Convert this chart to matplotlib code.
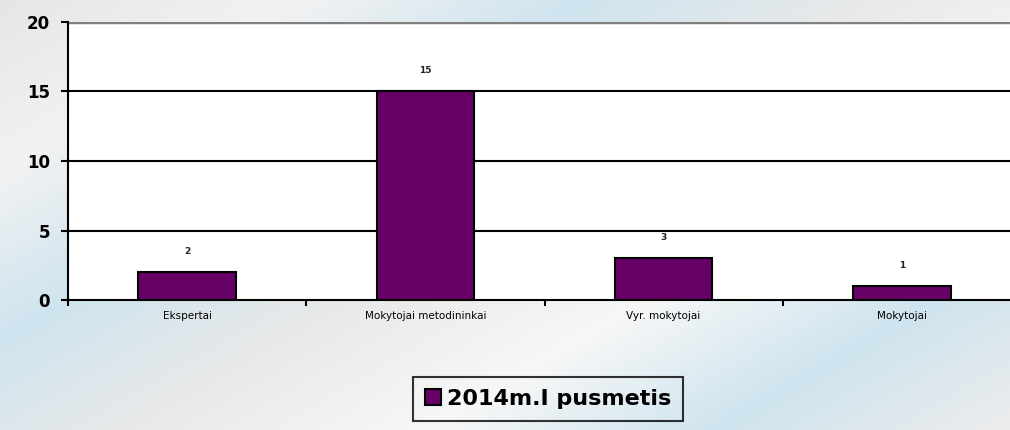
import numpy as np
import matplotlib
matplotlib.use("Agg")
import matplotlib.pyplot as plt
from matplotlib.colors import LinearSegmentedColormap

categories = ["Ekspertai", "Mokytojai metodininkai", "Vyr. mokytojai", "Mokytojai"]
values = [2, 15, 3, 1]
series_name = "2014m.I pusmetis"
yticks = [0, 5, 10, 15, 20]

bar_color = "#660066"

fig = plt.figure(figsize=(10.1, 4.3), dpi=100)

# background gradient
bg = fig.add_axes([0, 0, 1, 1], zorder=0)
bg.set_axis_off()
cmap = LinearSegmentedColormap.from_list(
    "bg", ["#e6e6e6", "#f2f2f2", "#cfe4ef", "#e9e9e9", "#f7f7f7", "#cfe4ef", "#ececec"])
yy, xx = np.mgrid[0:1:200j, 0:1:400j]
grad = (xx * 0.75 + (1 - yy) * 0.55)
bg.imshow(grad, cmap=cmap, aspect="auto", extent=[0, 1, 0, 1], origin="lower")
bg.set_xlim(0, 1)
bg.set_ylim(0, 1)

ax = fig.add_axes([68 / 1010, 0.302, 953 / 1010, 0.647], zorder=1)
ax.set_facecolor("white")
x = np.arange(len(categories))
bars = ax.bar(x, values, width=0.41, color=bar_color, edgecolor="black", linewidth=1.5, zorder=3)
for xi, v in zip(x, values):
    ax.text(xi, v + 1.2, str(v), ha="center", va="bottom", fontsize=6.5, fontweight="bold", color="#222222")

ax.set_xlim(-0.5, len(categories) - 0.5)
ax.set_ylim(0, 20)
ax.set_yticks(yticks)
ax.set_yticklabels([str(t) for t in yticks], fontsize=12, fontweight="bold")
for t in yticks[1:-1]:
    ax.axhline(t, color="black", linewidth=1.5, zorder=1)
ax.axhline(20, color="#808080", linewidth=2.5, zorder=1)

ax.set_xticks(x)
ax.set_xticklabels(categories, fontsize=7.5)
ax.set_xticks(np.arange(-0.5, len(categories), 1.0), minor=True)
ax.tick_params(axis="x", which="major", length=0, pad=8)
ax.tick_params(axis="x", which="minor", length=4, width=1.5, direction="out")
ax.tick_params(axis="y", length=5, width=1.5, pad=8)

for s in ["top", "right"]:
    ax.spines[s].set_visible(False)
ax.spines["left"].set_linewidth(1.5)
ax.spines["bottom"].set_linewidth(1.5)

leg = fig.legend([bars], [series_name], loc="center", bbox_to_anchor=(548 / 1010, 1 - 399 / 430),
                 prop={"size": 16, "weight": "bold"}, frameon=True, fancybox=False,
                 handlelength=0.75, handleheight=0.75, handletextpad=0.25, borderpad=0.55,
                 borderaxespad=0)
leg.get_frame().set_edgecolor("black")
leg.get_frame().set_linewidth(1.5)
leg.get_frame().set_facecolor("none")

fig.savefig("out.png", dpi=100)
